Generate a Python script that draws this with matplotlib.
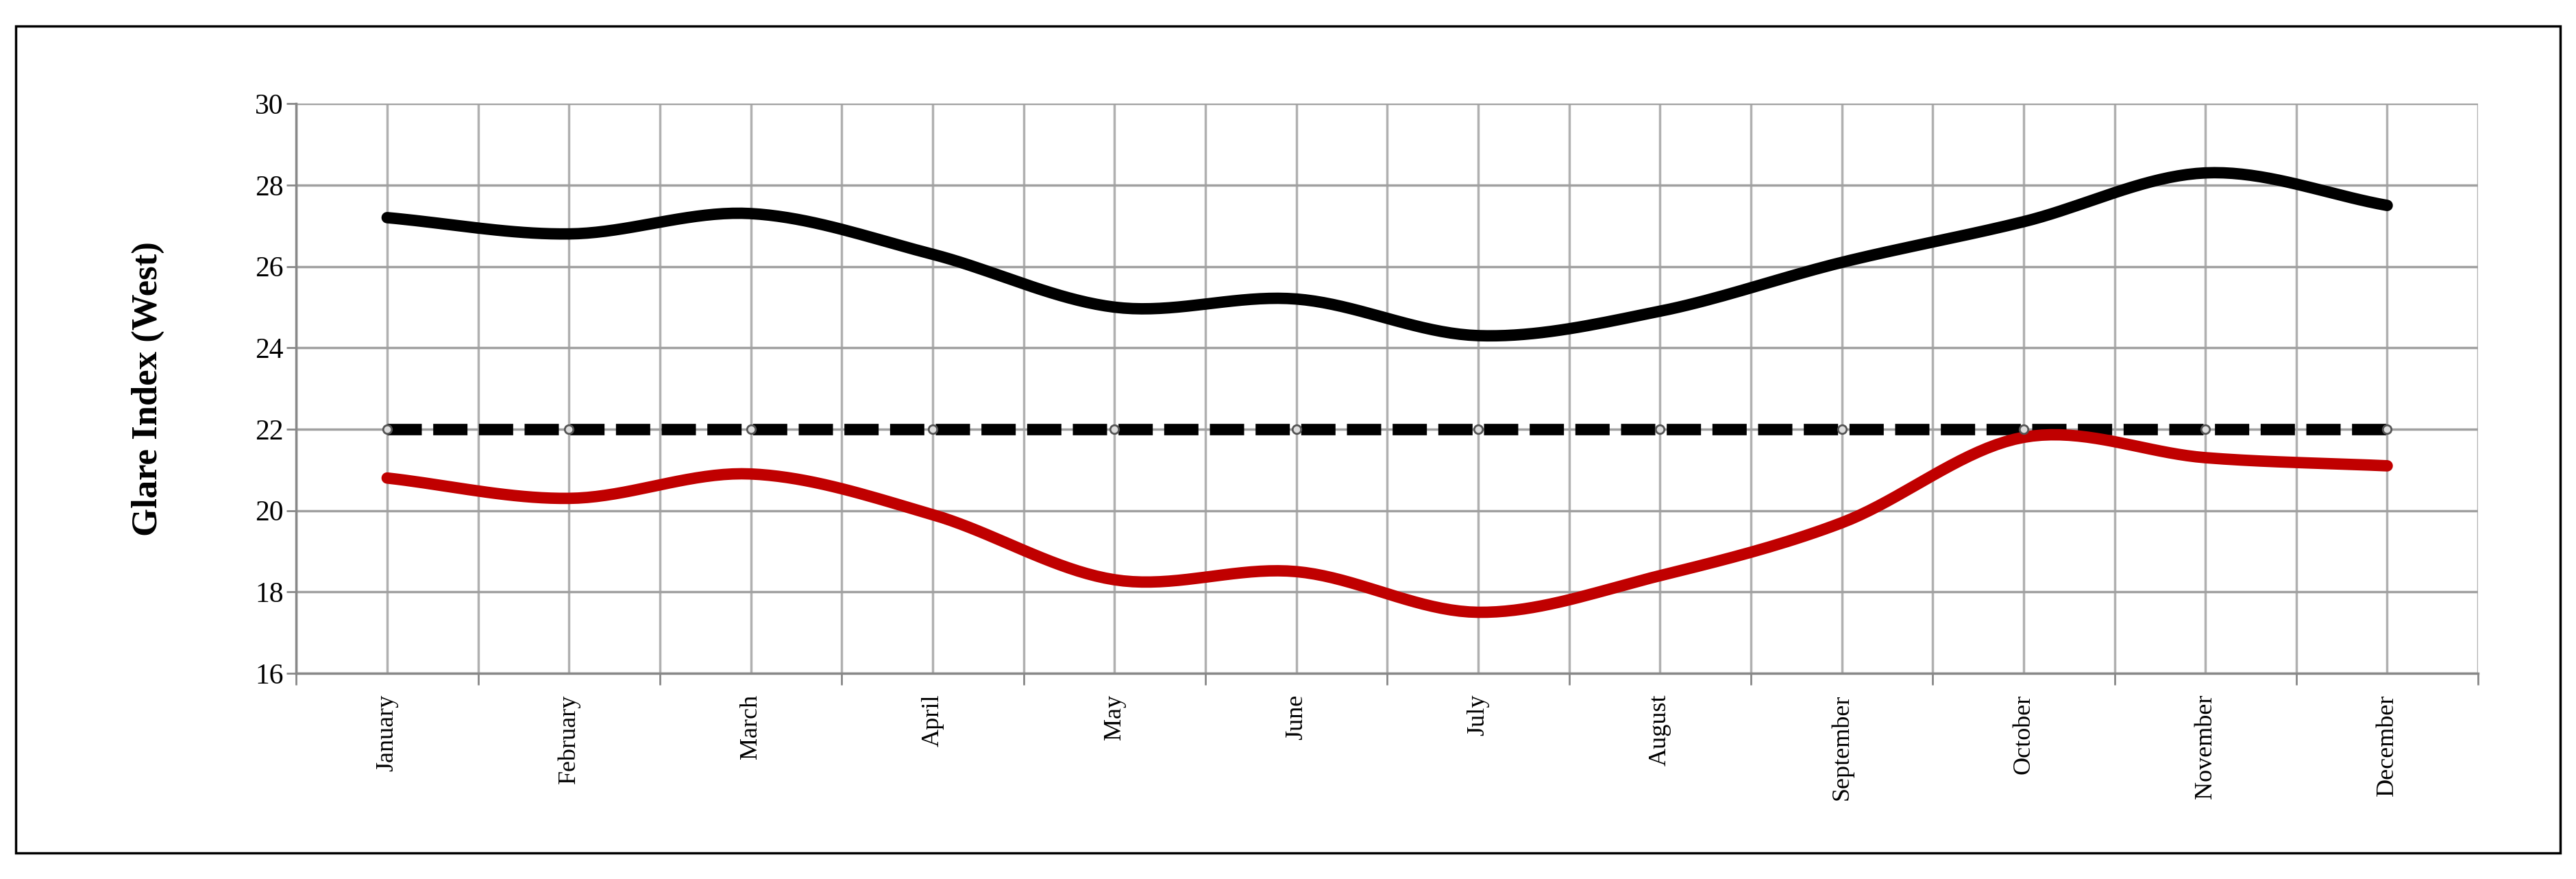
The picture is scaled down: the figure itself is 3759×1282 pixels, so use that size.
import numpy as np
import matplotlib
matplotlib.use("Agg")
import matplotlib.pyplot as plt
from matplotlib.patches import Rectangle

months = ["January","February","March","April","May","June","July","August",
          "September","October","November","December"]
glare_black = [27.2, 26.8, 27.3, 26.3, 25.0, 25.2, 24.3, 24.9, 26.1, 27.1, 28.3, 27.5]
glare_red = [20.8, 20.3, 20.9, 19.9, 18.3, 18.5, 17.5, 18.4, 19.7, 21.8, 21.3, 21.1]
limit = [22]*12

def smooth(y, n=20):
    y = np.asarray(y, float)
    p = np.concatenate([[2*y[0]-y[1]], y, [2*y[-1]-y[-2]]])
    xs, ys = [], []
    for i in range(len(y)-1):
        p0, p1, p2, p3 = p[i], p[i+1], p[i+2], p[i+3]
        t = np.linspace(0, 1, n, endpoint=False)
        v = 0.5*((2*p1) + (-p0+p2)*t + (2*p0-5*p1+4*p2-p3)*t**2 + (-p0+3*p1-3*p2+p3)*t**3)
        xs.append(i+t); ys.append(v)
    xs.append([len(y)-1]); ys.append([y[-1]])
    return np.concatenate(xs), np.concatenate(ys)

plt.rcParams['font.family'] = ['Liberation Serif', 'DejaVu Serif']
fig = plt.figure(figsize=(37.59, 12.82), dpi=100)
fig.patches.append(Rectangle((0.006, 0.03), 0.988, 0.94, transform=fig.transFigure,
                             fill=False, edgecolor='black', linewidth=2.5))
ax = fig.add_axes([0.115, 0.234, 0.847, 0.648])
x = np.arange(12)
ax.set_xlim(-0.5, 11.5)
ax.set_ylim(16, 30)
for v in np.arange(-0.5, 11.6, 0.5):
    ax.axvline(v, color='#b0b0b0', lw=2.5, zorder=0)
ax.yaxis.grid(True, color='#a0a0a0', lw=2.5, zorder=0)
ax.set_yticks(range(16, 31, 2))
ax.tick_params(axis='y', labelsize=30, length=10, width=2, color='#888888')
ax.set_xticks(x)
ax.set_xticklabels(months, rotation=90, fontsize=26)
ax.tick_params(axis='x', length=0, pad=22)
ax.set_xticks(np.arange(-0.5, 11.6, 1), minor=True)
ax.tick_params(axis='x', which='minor', length=12, width=2, color='#888888')
for s in ['top', 'right']:
    ax.spines[s].set_visible(False)
for s in ['left', 'bottom']:
    ax.spines[s].set_color('#888888'); ax.spines[s].set_linewidth(2.5)

xs, ys = smooth(glare_black)
ax.plot(xs, ys, color='black', lw=12, solid_capstyle='round', zorder=3)
xs, ys = smooth(glare_red)
ax.plot(xs, ys, color='#c00000', lw=12, solid_capstyle='round', zorder=3)
ax.plot(x, limit, color='black', lw=12, dashes=(3, 1), zorder=2)
ax.plot(x, limit, 'o', ms=9, mfc='#dddddd', mec='#555555', mew=2, zorder=4, lw=0)
ax.set_ylabel("Glare Index (West)", fontsize=38, fontweight='bold', labelpad=95)
fig.savefig("out.png", dpi=100)
